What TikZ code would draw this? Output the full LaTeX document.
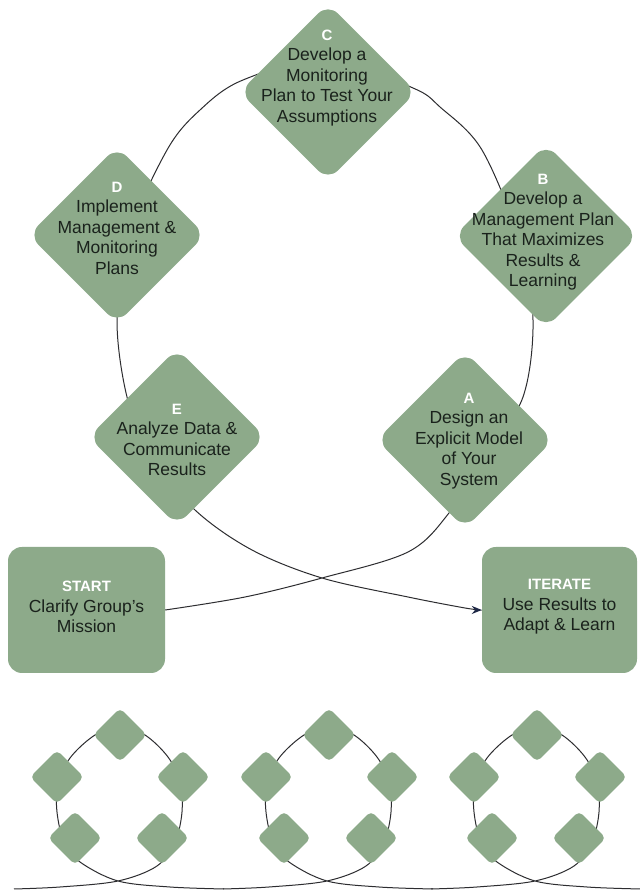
\documentclass[tikz,border=0pt]{standalone}
\usepackage{fontspec}
\setmainfont{Liberation Sans}
\usetikzlibrary{arrows.meta}
\pgfdeclarelayer{bgfill}
\pgfdeclarelayer{background}
\pgfsetlayers{bgfill,background,main}
\definecolor{sage}{RGB}{141,170,138}
\definecolor{ink}{RGB}{26,34,28}
\definecolor{loopcol}{RGB}{45,45,48}
\definecolor{tipcol}{RGB}{30,40,70}
\newcommand\lett[1]{{\color{white}\bfseries\fontsize{15}{20.5}\selectfont #1}}
\tikzset{
  bigdia/.style={shape=rectangle, rotate=45, minimum width=125pt, minimum height=125pt,
    inner sep=0pt, fill=sage, rounded corners=14pt},
  smalldia/.style={shape=rectangle, rotate=45, minimum width=38pt, minimum height=38pt,
    inner sep=0pt, fill=sage, rounded corners=5pt},
  diatext/.style={align=center, text=ink, inner sep=0pt,
    font=\fontsize{17.5}{20.5}\selectfont},
  sbox/.style={shape=rectangle, fill=sage, rounded corners=14pt,
    minimum width=157pt, minimum height=126pt, inner sep=0pt},
  loopline/.style={draw=loopcol, line width=1pt},
}
\begin{document}
\begin{tikzpicture}[x=1pt,y=1pt]
\begin{pgfonlayer}{bgfill}
\fill[white] (0,0) rectangle (640,892);
\end{pgfonlayer}
\useasboundingbox (0,0) rectangle (640,892);

% big diamonds
\node[bigdia] (C) at (328,800) {};
\node[bigdia, minimum width=130pt, minimum height=130pt] (B) at (546,656) {};
\node[bigdia] (D) at (117,657) {};
\node[bigdia] (E) at (177,455) {};
\node[bigdia] (A) at (465,452) {};

\node[diatext] (Ct) at (327,814) {\lett{C}\\Develop a\\Monitoring\\Plan to Test Your\\Assumptions};
\node[diatext] (Bt) at (543,660) {\lett{B}\\Develop a\\Management Plan\\That Maximizes\\Results \&\\Learning};
\node[diatext] (Dt) at (117,664) {\lett{D}\\Implement\\Management \&\\Monitoring\\Plans};
\node[diatext] (Et) at (177,452) {\lett{E}\\Analyze Data \&\\Communicate\\Results};
\node[diatext] (At) at (469,451) {\lett{A}\\Design an\\Explicit Model\\of Your\\System};

% start / iterate boxes
\node[sbox] (start) at (86.5,282) {};
\node[sbox, minimum width=155pt] (iter) at (559.5,282) {};
\node[diatext] (startt) at (86.5,285) {\lett{START}\\Clarify Group’s\\Mission};
\node[diatext] (itert) at (559.5,285) {\lett{ITERATE}\\Use Results to\\Adapt \& Learn};

% main loop
\begin{pgfonlayer}{background}
\draw[loopline, -{Stealth[length=10pt,width=8pt,color=tipcol]}]
  plot[smooth, tension=0.55] coordinates {
  (start.east) (245,295) (322,314) (408,340) (449,379) (486,437) (523,495)
  (533,572) (520,650) (482,742) (440,785) (413,804) (328,834)
  (243,812) (200,782) (167,742) (128,655) (117,572) (127,495)
  (150,437) (195,382) (252,342) (322,314) (408,295) (465,284)
  (iter.west)};
\end{pgfonlayer}

% bottom icons
\foreach \cx/\i in {120/1,329/2,537/3}{
\begin{scope}[xshift=\cx pt]
  \node[smalldia] (t\i) at (0,157) {};
  \node[smalldia] (l\i) at (-63,115) {};
  \node[smalldia] (r\i) at (63,115) {};
  \node[smalldia] (bl\i) at (-45,54) {};
  \node[smalldia] (br\i) at (42,54) {};
  \begin{pgfonlayer}{background}
  \draw[loopline] plot[smooth, tension=0.55] coordinates {
    (-106,3) (-60,5) (-2,11) (37,26) (55,50) (62,80) (60,110) (48,135)
    (25,157) (0,165) (-25,157) (-50,134) (-62,107) (-63,80) (-56,50)
    (-40,30) (-2,11) (50,5) (104,3)};
  \end{pgfonlayer}
\end{scope}
}
\end{tikzpicture}
\end{document}
